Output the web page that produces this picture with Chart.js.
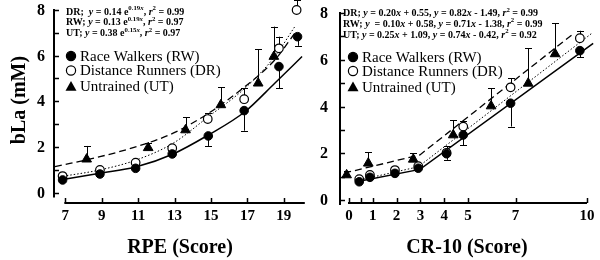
<!DOCTYPE html>
<html><head><meta charset="utf-8">
<script src="https://cdn.jsdelivr.net/npm/chart.js@4.4.1/dist/chart.umd.min.js"></script>
<style>
html,body{margin:0;padding:0;background:#fff;}
#wrap{position:relative;width:600px;height:260px;overflow:hidden;}
canvas{position:absolute;left:0;top:0;}
</style></head><body>
<div id="wrap"><canvas id="c1" width="600" height="260"></canvas><canvas id="c2" width="600" height="260"></canvas></div>
<script>
// ---------- Left panel (RPE) ----------
const rpeRW = [6.85, 8.9, 10.86, 12.87, 14.85, 16.82, 18.73, 19.75];
const rpeBlaRW = [0.55, 0.81, 1.06, 1.69, 2.48, 3.59, 5.52, 6.83];
const rpeSdRW = [0, 0, 0, 0, 0.44, 0.88, 0.95, 0.40];
const rpeDR = [6.85, 8.9, 10.86, 12.87, 14.82, 16.82, 18.73, 19.7];
const rpeBlaDR = [0.72, 0.99, 1.31, 1.94, 3.22, 4.09, 6.32, 8.0];
const rpeSdDR = [0, 0, 0, 0, 0.25, 0.48, 0.51, 0.44];
const rpeUT = [8.17, 11.55, 13.6, 15.54, 17.59, 18.45];
const rpeBlaUT = [1.46, 1.96, 2.74, 3.84, 4.79, 5.96];
const rpeSdUT = [0.58, 0.22, 0.56, 0.77, 1.49, 1.31];
// fitted curves
const rpeFitRWx = [6.7, 8.9, 10.91, 12.92, 14.85, 16.86, 18.5, 20.0];
const rpeFitRWy = [0.55, 0.84, 1.13, 1.69, 2.52, 3.54, 4.79, 5.96];
const rpeFitDRx = [6.7, 8.9, 10.91, 12.92, 14.85, 16.86, 18.5, 19.6];
const rpeFitDRy = [0.69, 0.99, 1.43, 2.16, 3.32, 4.57, 5.96, 7.27];
const rpeFitUTx = [6.43, 8.9, 10.91, 12.92, 14.85, 16.86, 18.5, 19.6];
const rpeFitUTy = [1.13, 1.57, 2.01, 2.6, 3.47, 4.64, 5.81, 6.98];
const rpeTicks = [7, 9, 11, 13, 15, 17, 19];
const rpeEquations = [
  'DR;  *y* = 0.14 e^{0.19*x*}, *r*^{2} = 0.99',
  'RW; *y* = 0.13 e^{0.19*x*}, *r*^{2} = 0.97',
  'UT; *y* = 0.38 e^{0.15*x*}, *r*^{2} = 0.97'
];

// ---------- Right panel (CR-10) ----------
const crRW = [0.43, 0.88, 1.93, 2.91, 4.1, 4.8, 6.79, 9.7];
const crBlaRW = [0.78, 0.97, 1.14, 1.36, 1.98, 2.78, 4.14, 6.39];
const crSdRW = [0, 0, 0, 0, 0.26, 0.43, 1.0, 0.29];
const crDR = [0.43, 0.88, 1.93, 2.91, 4.1, 4.8, 6.79, 9.7];
const crBlaDR = [0.89, 1.07, 1.28, 1.45, 2.02, 3.14, 4.82, 6.92];
const crSdDR = [0, 0, 0, 0, 0.28, 0.25, 0.39, 0.32];
const crUT = [-0.1, 0.81, 2.7, 4.38, 5.97, 7.53, 8.66];
const crBlaUT = [1.07, 1.57, 1.74, 2.78, 4.02, 4.99, 6.25];
const crSdUT = [0.18, 0.47, 0.26, 0.64, 0.76, 1.5, 1.31];
const crFitRWx = [0.32, 2.98, 10.26];
const crFitRWy = [0.78, 1.31, 6.7];
const crFitDRx = [0.46, 2.91, 10.2];
const crFitDRy = [0.86, 1.42, 7.13];
const crFitUTx = [-0.2, 2.98, 9.36];
const crFitUTy = [1.15, 1.93, 7.06];
const crTicks = [0, 0.5, 1, 2, 3, 4, 5, 7, 10];
const crTickLabels = [0, 1, 2, 3, 4, 5, 7, 10];
const crEquations = [
  'DR; *y* = 0.20*x* + 0.55, *y* = 0.82*x* - 1.49, *r*^{2} = 0.99',
  'RW; *y*  = 0.10*x* + 0.58, *y* = 0.71*x* - 1.38, *r*^{2} = 0.99',
  'UT; *y* = 0.25*x* + 1.09, *y* = 0.74*x* - 0.42, *r*^{2} = 0.92'
];

const yTicks = [0, 1, 2, 3, 4, 5, 6, 7, 8];
const yTickLabels = [0, 2, 4, 6, 8];
const legendLabels = ['Race Walkers (RW)', 'Distance Runners (DR)', 'Untrained (UT)'];

const SERIF = '"Liberation Serif", "Times New Roman", serif';
Chart.defaults.font.family = SERIF;

function pts(xs, ys) { return xs.map((x, i) => ({x: x, y: ys[i]})); }

function parseRich(str) {
  const segs = [];
  let i = 0, cur = '', italic = false, sup = false;
  function push() { if (cur) segs.push({t: cur, i: italic, s: sup}); cur = ''; }
  while (i < str.length) {
    const c = str[i];
    if (c === '*') { push(); italic = !italic; i++; }
    else if (c === '^' && str[i + 1] === '{') { push(); sup = true; i += 2; }
    else if (c === '}' && sup) { push(); sup = false; i++; }
    else { cur += c; i++; }
  }
  push();
  return segs;
}
function drawRich(ctx, x, y, str, size) {
  for (const s of parseRich(str)) {
    const fs = s.s ? size * 0.68 : size;
    ctx.font = (s.i ? 'italic ' : '') + 'bold ' + fs + 'px ' + SERIF;
    ctx.fillText(s.t, x, y + (s.s ? -size * 0.33 : 0));
    x += ctx.measureText(s.t).width;
  }
}

function marker(ctx, kind, x, y) {
  ctx.save();
  ctx.lineWidth = 1.2; ctx.strokeStyle = '#000';
  if (kind === 'tri') {
    ctx.beginPath(); ctx.moveTo(x, y - 5.5); ctx.lineTo(x + 5.5, y + 4.2); ctx.lineTo(x - 5.5, y + 4.2); ctx.closePath();
    ctx.fillStyle = '#000'; ctx.fill();
  } else {
    ctx.beginPath(); ctx.arc(x, y, 4.6, 0, Math.PI * 2);
    ctx.fillStyle = kind === 'open' ? '#fff' : '#000'; ctx.fill(); ctx.stroke();
  }
  ctx.restore();
}

function decor(p) {
  return {
    id: 'decor',
    beforeDatasetsDraw(chart) {
      const ctx = chart.ctx, xs = chart.scales.x, ys = chart.scales.y;
      ctx.save(); ctx.strokeStyle = '#000'; ctx.lineWidth = 1;
      for (const g of p.errors) {
        g.x.forEach((xv, i) => {
          const sd = g.sd[i]; if (!sd) return;
          const px = Math.round(xs.getPixelForValue(xv)) + 0.5;
          const y0 = ys.getPixelForValue(g.y[i]);
          const y1 = ys.getPixelForValue(g.y[i] + g.dir * sd);
          ctx.beginPath(); ctx.moveTo(px, y0); ctx.lineTo(px, y1);
          ctx.moveTo(px - 3.5, Math.round(y1) + 0.5); ctx.lineTo(px + 3.5, Math.round(y1) + 0.5); ctx.stroke();
        });
      }
      ctx.restore();
    },
    afterDraw(chart) {
      const ctx = chart.ctx, xs = chart.scales.x, ys = chart.scales.y, ca = chart.chartArea;
      ctx.save();
      ctx.strokeStyle = '#000'; ctx.fillStyle = '#000'; ctx.lineWidth = 2;
      // y axis line
      const ax = Math.round(ca.left);
      ctx.beginPath(); ctx.moveTo(ax, ys.getPixelForValue(8) - 1); ctx.lineTo(ax, ys.getPixelForValue(0) + 5); ctx.stroke();
      ctx.lineWidth = 1.5;
      for (const t of yTicks) {
        const py = Math.round(ys.getPixelForValue(t)) + 0.5;
        ctx.beginPath(); ctx.moveTo(ax, py); ctx.lineTo(ax + 5, py); ctx.stroke();
      }
      ctx.font = 'bold 16px ' + SERIF; ctx.textAlign = 'right'; ctx.textBaseline = 'middle';
      for (const t of yTickLabels) ctx.fillText(String(t), p.yLabelX, ys.getPixelForValue(t) + 1);
      // x axis line (detached)
      ctx.lineWidth = 2;
      const xa = p.xAxisY;
      ctx.beginPath(); ctx.moveTo(xs.getPixelForValue(p.xFrom) - 1, xa); ctx.lineTo(xs.getPixelForValue(p.xTo), xa); ctx.stroke();
      ctx.lineWidth = 1.5;
      for (const t of p.xTicks) {
        const px = Math.round(xs.getPixelForValue(t)) + 0.5;
        ctx.beginPath(); ctx.moveTo(px, xa); ctx.lineTo(px, xa - 5); ctx.stroke();
      }
      ctx.textAlign = 'center'; ctx.textBaseline = 'middle'; ctx.font = 'bold 15px ' + SERIF;
      for (const t of p.xLabels) ctx.fillText(String(t), xs.getPixelForValue(t), xa + 13);
      // axis titles
      ctx.font = 'bold 20px ' + SERIF;
      ctx.fillText(p.xTitle, p.xTitleX, 248);
      if (p.yTitle) {
        ctx.save(); ctx.translate(20, 100); ctx.rotate(-Math.PI / 2);
        ctx.fillText(p.yTitle, 0, 0); ctx.restore();
      }
      // equations
      ctx.textAlign = 'left'; ctx.textBaseline = 'middle';
      p.equations.forEach((e, i) => drawRich(ctx, p.eqX, p.eqY[i], e, 10));
      // legend
      const kinds = ['fill', 'open', 'tri'];
      legendLabels.forEach((l, i) => {
        marker(ctx, kinds[i], p.legX, p.legY[i]);
        ctx.font = '15px ' + SERIF; ctx.fillStyle = '#000'; ctx.textAlign = 'left'; ctx.textBaseline = 'middle';
        ctx.fillText(l, p.legX + 9, p.legY[i] + 1);
      });
      ctx.restore();
    }
  };
}

function datasets(rw, dr, ut, fits, curved) {
  const base = {showLine: false, clip: false, order: 0};
  const fitBase = {showLine: true, pointRadius: 0, borderColor: '#000', backgroundColor: '#000', clip: false, order: 1,
                   tension: curved ? 0.4 : 0, cubicInterpolationMode: curved ? 'monotone' : 'default'};
  return [
    Object.assign({label: 'Race Walkers (RW)', data: rw, pointStyle: 'circle', pointRadius: 4.3, backgroundColor: '#000', borderColor: '#000', borderWidth: 1}, base),
    Object.assign({label: 'Distance Runners (DR)', data: dr, pointStyle: 'circle', pointRadius: 4.3, backgroundColor: '#fff', borderColor: '#000', borderWidth: 1.2}, base),
    Object.assign({label: 'Untrained (UT)', data: ut, pointStyle: 'triangle', pointRadius: 5.6, backgroundColor: '#000', borderColor: '#000', borderWidth: 1}, base),
    Object.assign({label: 'RW fit', data: fits[0], borderWidth: 1.5}, fitBase),
    Object.assign({label: 'DR fit', data: fits[1], borderWidth: 1, borderDash: [1.5, 2]}, fitBase),
    Object.assign({label: 'UT fit', data: fits[2], borderWidth: 1.3, borderDash: [7, 4]}, fitBase)
  ];
}

function makeChart(id, ds, xmin, xmax, pad, p) {
  return new Chart(document.getElementById(id), {
    type: 'scatter',
    data: {datasets: ds},
    options: {
      responsive: false, animation: false, devicePixelRatio: 1,
      layout: {padding: pad},
      plugins: {legend: {display: false}, tooltip: {enabled: false}},
      scales: {
        x: {type: 'linear', min: xmin, max: xmax, display: false},
        y: {type: 'linear', min: 0, max: 8, display: false}
      }
    },
    plugins: [decor(p)]
  });
}

makeChart('c1',
  datasets(pts(rpeRW, rpeBlaRW), pts(rpeDR, rpeBlaDR), pts(rpeUT, rpeBlaUT),
    [pts(rpeFitRWx, rpeFitRWy), pts(rpeFitDRx, rpeFitDRy), pts(rpeFitUTx, rpeFitUTy)], true),
  6.35, 20.15, {left: 53.5, right: 295.2, top: 10, bottom: 67.5},
  {errors: [{x: rpeRW, y: rpeBlaRW, sd: rpeSdRW, dir: -1}, {x: rpeDR, y: rpeBlaDR, sd: rpeSdDR, dir: 1}, {x: rpeUT, y: rpeBlaUT, sd: rpeSdUT, dir: 1}],
   yLabelX: 45, xAxisY: 203, xFrom: 7, xTo: 20.15, xTicks: rpeTicks, xLabels: rpeTicks,
   xTitle: 'RPE (Score)', xTitleX: 180, yTitle: 'bLa (mM)',
   equations: rpeEquations, eqX: 66, eqY: [12, 22.7, 33.4],
   legX: 71, legY: [56, 70.5, 86.5]});

makeChart('c2',
  datasets(pts(crRW, crBlaRW), pts(crDR, crBlaDR), pts(crUT, crBlaUT),
    [pts(crFitRWx, crFitRWy), pts(crFitDRx, crFitDRy), pts(crFitUTx, crFitUTy)], false),
  -0.378, 10.126, {left: 340, right: 10, top: 13, bottom: 60},
  {errors: [{x: crRW, y: crBlaRW, sd: crSdRW, dir: -1}, {x: crDR, y: crBlaDR, sd: crSdDR, dir: 1}, {x: crUT, y: crBlaUT, sd: crSdUT, dir: 1}],
   yLabelX: 328, xAxisY: 203, xFrom: 0, xTo: 10, xTicks: crTicks, xLabels: crTickLabels,
   xTitle: 'CR-10 (Score)', xTitleX: 467, yTitle: null,
   equations: crEquations, eqX: 343, eqY: [13.3, 24, 35],
   legX: 353, legY: [57, 71, 87]});
</script>
</body></html>
